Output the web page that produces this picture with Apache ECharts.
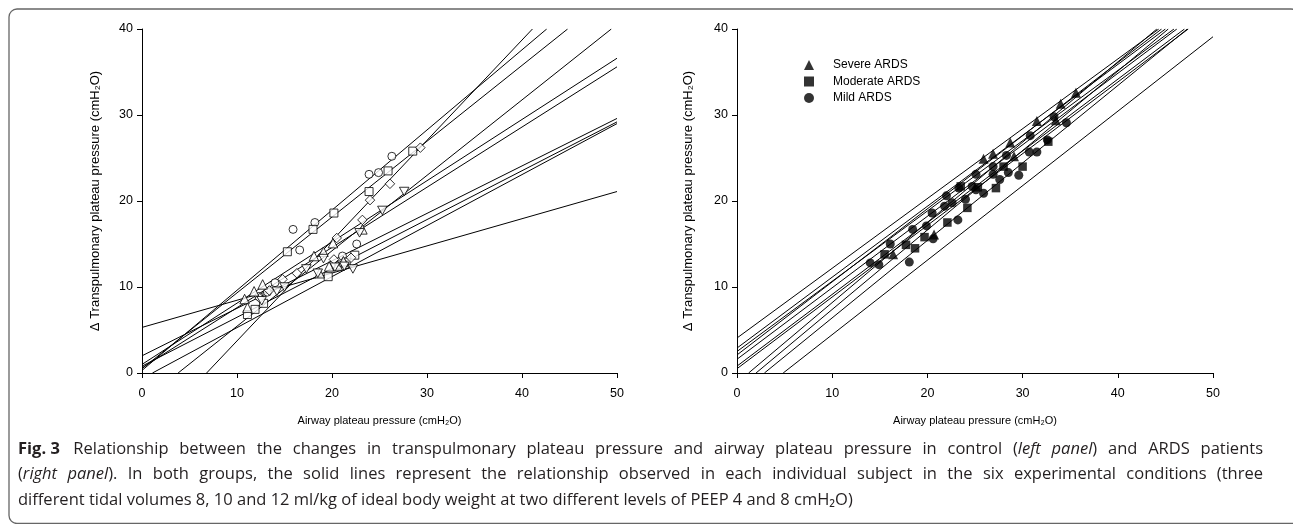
<!DOCTYPE html>
<html>
<head>
<meta charset="utf-8">
<script src="https://cdn.jsdelivr.net/npm/echarts@6/dist/echarts.min.js"></script>
<style>
html,body{margin:0;padding:0;background:#fff;}
#chart{width:1293px;height:524px;}
</style>
</head>
<body>
<div id="chart"></div>
<script>
// ---------- axis ticks ----------
const xTicks = [0, 10, 20, 30, 40, 50];
const yTicks = [0, 10, 20, 30, 40];

// ---------- LEFT PANEL (control) : open markers ----------
const leftCircle = [[15.9,16.7],[16.6,14.3],[18.2,17.5],[23.9,23.1],[24.9,23.3],[26.3,25.2],
  [12.3,8.9],[13.2,9.4],[14.0,10.5],[20.7,12.6],[21.1,13.6],[22.6,15.0]];
const leftSquare = [[15.3,14.1],[18.0,16.7],[20.2,18.6],[23.9,21.1],[25.9,23.5],[28.5,25.8],
  [11.1,6.8],[11.9,7.4],[12.8,8.1],[19.6,11.2],[21.5,12.9],[22.4,13.7]];
const leftDiamond = [[16.3,11.6],[20.5,15.7],[23.2,17.8],[24.0,20.1],[26.1,22.0],[29.3,26.2],
  [12.4,8.7],[13.4,9.6],[14.8,10.9],[20.2,13.2],[21.3,12.7],[22.0,13.4]];
const leftTriUp = [[11.8,9.5],[12.7,10.3],[18.1,13.6],[19.1,14.1],[20.1,15.1],[23.2,16.7],
  [10.8,8.6],[11.1,7.6],[18.7,11.6],[19.7,12.4],[20.6,12.5],[21.2,13.0]];
const leftTriDown = [[15.0,10.0],[17.3,12.1],[19.1,13.3],[22.9,16.3],[25.3,18.9],[27.6,21.1],
  [12.6,8.4],[14.2,9.5],[18.5,11.6],[20.3,12.3],[21.3,12.4],[22.2,12.1]];
// regression lines of each control subject (end points)
const leftLines = [
  [[0,0.3],[42.6,40]],
  [[0,0.5],[44.8,40]],
  [[6.8,0],[41.1,40]],
  [[3.8,0],[49.4,40]],
  [[0,1.0],[50,36.6]],
  [[0,0.6],[50,35.6]],
  [[0,2.0],[50,29.6]],
  [[0,0.8],[50,29.2]],
  [[1.1,0],[50,29.0]],
  [[0,5.3],[50,21.1]]
];

// ---------- RIGHT PANEL (ARDS) : filled markers ----------
const severe = [[16.4,13.8],[20.7,16.1],[25.9,24.9],[26.9,25.5],[28.7,26.8],[29.1,25.2],
  [31.5,29.3],[33.5,29.4],[34.0,31.3],[35.6,32.6]];
const moderate = [[15.5,13.8],[17.75,14.9],[18.7,14.5],[19.7,15.8],[22.1,17.5],[23.5,21.7],
  [24.2,19.2],[25.3,21.6],[27.2,21.5],[28.0,24.0],[30.0,24.0],[32.7,26.9]];
const mild = [[14.0,12.8],[14.9,12.6],[16.1,15.0],[18.1,12.9],[18.45,16.7],[19.9,17.1],
  [20.5,18.6],[20.6,15.6],[21.8,19.4],[22.0,20.6],[22.6,19.8],[23.2,17.8],[23.3,21.5],
  [24.0,20.2],[24.7,21.7],[25.1,23.1],[25.1,21.3],[25.9,20.9],[26.9,24.0],[26.9,23.1],
  [27.6,22.5],[28.3,25.3],[28.5,23.3],[29.6,23.0],[30.7,25.7],[30.8,27.6],[31.5,25.7],
  [32.6,27.1],[33.3,29.8],[34.6,29.1]];
const rightLines = [
  [[0,4.07],[44.3,40]],
  [[0,2.9],[45.0,40]],
  [[0,2.5],[45.9,40]],
  [[0,2.1],[44.6,40]],
  [[0,1.6],[46.2,40]],
  [[0,0.8],[47.0,40]],
  [[0,0.5],[47.4,40]],
  [[1.22,0],[44.1,40]],
  [[2.0,0],[45.3,40]],
  [[2.88,0],[47.3,40]],
  [[4.85,0],[50,39.1]]
];

// ---------- texts ----------
const legendNames = ['Severe ARDS', 'Moderate ARDS', 'Mild ARDS'];
const yTitle = '\u0394 Transpulmonary plateau pressure (cmH\u2082O)';
const xTitle = 'Airway plateau pressure (cmH\u2082O)';
const captionLines = [
  '{b|Fig.\u00a03\u2009} Relationship between the changes in transpulmonary plateau pressure and airway plateau pressure in control ({i|left panel}) and ARDS patients',
  '({i|right panel}). In both groups, the solid lines represent the relationship observed in each individual subject in the six experimental conditions (three',
  'different tidal volumes 8, 10 and 12 ml/kg of ideal body weight at two different levels of PEEP 4 and 8 cmH\u2082O)'
];
const captionJustify = [true, true, false];

const AX_FONT = 'Liberation Sans, Arial, sans-serif';
const CAP_FAMILY = '"Open Sans", "Noto Sans", sans-serif';
const CAP_SIZE = 16.5;
const CAP_COLOR = '#231f20';
const triDown = 'path://M0,0 L10,0 L5,9 Z';
const diamond = 'path://M5,0 L10,5 L5,10 L0,5 Z';

function xAxis(gi) {
  return {
    type: 'value', gridIndex: gi, min: 0, max: 50, interval: 10,
    axisLine: { show: true, lineStyle: { color: '#000', width: 1 } },
    axisTick: { show: true, length: 5, lineStyle: { color: '#000', width: 1 } },
    splitLine: { show: false },
    axisLabel: { color: '#000', fontSize: 12.5, fontFamily: AX_FONT, margin: 14 },
    name: xTitle, nameLocation: 'middle', nameGap: 42,
    nameTextStyle: { color: '#000', fontSize: 11, fontFamily: AX_FONT }
  };
}
function yAxis(gi, gap) {
  return {
    type: 'value', gridIndex: gi, min: 0, max: 40, interval: 10,
    axisLine: { show: true, lineStyle: { color: '#000', width: 1 } },
    axisTick: { show: true, length: 5, lineStyle: { color: '#000', width: 1 } },
    splitLine: { show: false },
    axisLabel: { color: '#000', fontSize: 12.5, fontFamily: AX_FONT, margin: 9 },
    name: yTitle, nameLocation: 'middle', nameGap: gap, nameRotate: 90,
    nameTextStyle: { color: '#000', fontSize: 13, fontFamily: AX_FONT }
  };
}

const series = [];
leftLines.forEach(seg => series.push({
  type: 'line', xAxisIndex: 0, yAxisIndex: 0, data: seg, symbol: 'none', silent: true,
  lineStyle: { color: '#000', width: 1 }, z: 2
}));
rightLines.forEach(seg => series.push({
  type: 'line', xAxisIndex: 1, yAxisIndex: 1, data: seg, symbol: 'none', silent: true,
  lineStyle: { color: '#000', width: 1 }, z: 2
}));
const openStyle = { color: '#fff', borderColor: '#000', borderWidth: 1 };
[[leftCircle,'circle',8],[leftSquare,'rect',8],[leftDiamond,diamond,9.5],
 [leftTriUp,'triangle',9.5],[leftTriDown,triDown,9.5]].forEach(([d,sym,sz]) => series.push({
  type: 'scatter', xAxisIndex: 0, yAxisIndex: 0, data: d, symbol: sym, symbolSize: sz,
  symbolKeepAspect: true, itemStyle: openStyle, z: 3
}));
[[severe,'triangle',10,legendNames[0]],[moderate,'rect',8.5,legendNames[1]],
 [mild,'circle',9,legendNames[2]]].forEach(([d,sym,sz,nm]) => series.push({
  type: 'scatter', name: nm, xAxisIndex: 1, yAxisIndex: 1, data: d, symbol: sym,
  symbolSize: sz, itemStyle: { color: '#000' }, z: 3
}));

// ---------- caption: rich text, first two lines justified ----------
const measureCtx = document.createElement('canvas').getContext('2d');
function fontOf(st) {
  return (st === 'i' ? 'italic ' : 'normal ') + (st === 'b' ? 'bold ' : 'normal ') +
    CAP_SIZE + 'px ' + CAP_FAMILY;
}
function buildCaption(line, justify, target) {
  const items = [];
  const re = /\{(b|i)\|([^}]*)\}/g;
  let last = 0, m;
  const segs = [];
  while ((m = re.exec(line)) !== null) {
    if (m.index > last) segs.push(['n', line.slice(last, m.index)]);
    segs.push([m[1], m[2]]);
    last = re.lastIndex;
  }
  if (last < line.length) segs.push(['n', line.slice(last)]);
  segs.forEach(([st, txt]) => {
    txt.split(' ').forEach((w, j) => {
      if (j > 0) items.push({ gap: true });
      if (w !== '') items.push({ st: st, t: w });
    });
  });
  let wordsW = 0, gaps = 0;
  items.forEach(it => {
    if (it.gap) { gaps++; return; }
    measureCtx.font = fontOf(it.st);
    wordsW += measureCtx.measureText(it.t).width;
  });
  measureCtx.font = fontOf('n');
  const natural = measureCtx.measureText(' ').width;
  const gapW = justify ? Math.max(natural, (target - wordsW) / gaps) : natural;
  let s = '';
  items.forEach(it => { s += it.gap ? '{g|\u00a0}' : '{' + it.st + '|' + it.t + '}'; });
  return { text: s, gapW: gapW };
}
const graphics = [{
  type: 'rect', silent: true,
  shape: { x: 9, y: 9, width: 1290, height: 514.5, r: 8 },
  style: { fill: null, stroke: '#666', lineWidth: 1.3 }
}];
const capY = [449, 474, 500];
captionLines.forEach((t, i) => {
  const c = buildCaption(t, captionJustify[i], 1245);
  const base = { fontSize: CAP_SIZE, fontFamily: CAP_FAMILY, fill: CAP_COLOR };
  graphics.push({
    type: 'text', x: 18, y: capY[i], silent: true,
    style: {
      text: c.text, fill: CAP_COLOR, fontSize: CAP_SIZE, fontFamily: CAP_FAMILY, verticalAlign: 'middle',
      rich: {
        n: Object.assign({}, base),
        b: Object.assign({ fontWeight: 'bold' }, base),
        i: Object.assign({ fontStyle: 'italic' }, base),
        g: Object.assign({ width: c.gapW }, base)
      }
    }
  });
});

const chart = echarts.init(document.getElementById('chart'), null, { renderer: 'canvas' });
chart.setOption({
  animation: false,
  backgroundColor: '#fff',
  grid: [
    { left: 142, top: 29, width: 475, height: 344 },
    { left: 737, top: 29, width: 476, height: 344 }
  ],
  xAxis: [xAxis(0), xAxis(1)],
  yAxis: [yAxis(0, 40), yAxis(1, 42)],
  legend: {
    data: legendNames, orient: 'vertical', left: 799, top: 54,
    itemWidth: 10, itemHeight: 10, itemGap: 4.5, selectedMode: false,
    textStyle: { color: '#000', fontSize: 12, fontFamily: AX_FONT, padding: [0,0,0,14] }
  },
  graphic: graphics,
  series: series
});
</script>
</body>
</html>
